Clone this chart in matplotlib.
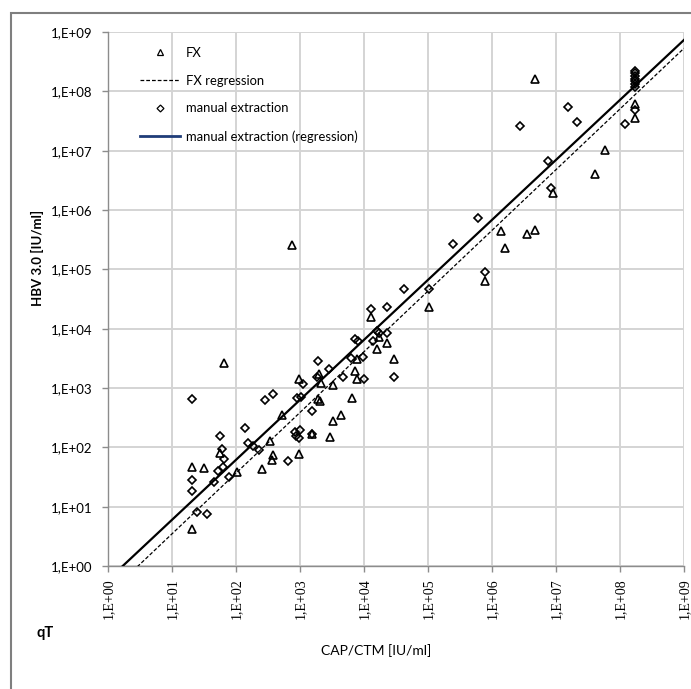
import numpy as np
import matplotlib
matplotlib.use("Agg")
import matplotlib.pyplot as plt
from matplotlib.lines import Line2D
from matplotlib.patches import Rectangle
from matplotlib.ticker import FixedLocator, NullLocator

# ---------------- data ----------------
fx_cap = [20.5, 20.5, 31.3, 56.2, 63.8, 104, 255, 340, 374, 365, 524, 759, 975, 975,
          1894, 2089, 1982, 2104, 1556, 2972, 3221, 4325, 3311, 6427, 7228, 7691, 7780,
          29720, 12850, 15960, 16980, 22650, 104700, 785000, 1368000, 1596000, 3565000,
          4699000, 8872000, 4699000, 40640000, 58880000, 173400000, 173400000]
fx_hbv = [4.2, 46.7, 44, 79.4, 2612, 37.9, 43.2, 127, 73.5, 61.2, 355, 254000, 76.6, 1403,
          650, 608, 1722, 1213, 166, 151, 273, 351, 1114, 670, 1959, 1403, 3027,
          3083, 15560, 4457, 7161, 5675, 23170, 64400, 434500, 230700, 390800,
          467700, 1914000, 163300000, 4046000, 10280000, 61240000, 35160000]

man_cap = [20.5, 20.5, 20.5, 24.6, 35.2, 46.1, 52.7, 56.9, 60.4, 65.5, 62.7, 76.4,
           139, 154, 185, 225, 281, 383, 643, 836, 1000, 866, 975, 904, 1029, 1127,
           1524, 1556, 1824, 1892, 2818, 4667, 6310, 9572, 10070, 7289, 8054, 13580,
           12740, 22650, 15780, 17340, 23120, 29720, 42660, 103700, 243200, 598400,
           785000, 2738000, 7586000, 8260000, 15240000, 21530000, 121100000, 173400000,
           173400000, 173400000, 173400000, 173400000, 173400000, 173400000, 173400000]
man_hbv = [661, 27.8, 18.6, 7.98, 7.46, 26.1, 40.4, 157, 95.5, 62.8, 46.7, 32.0,
           209, 117, 105, 89.1, 628, 783, 58.2, 182, 194, 155, 145, 673, 692, 1169,
           413, 166, 1552, 2799, 2075, 1517, 3228, 3334, 1403, 6622, 6266, 6081,
           21480, 22910, 9141, 8356, 8356, 1552, 47210, 46130, 264200, 724400,
           91200, 26060000, 6776000, 2323000, 55080000, 30760000, 27860000, 48530000,
           222800000, 201400000, 181600000, 163300000, 147600000, 133000000, 120000000]

# regression in log10 space: log10(y) = slope * log10(x) + intercept
fx_reg_slope, fx_reg_intercept = 1.023, -0.481
man_reg_slope, man_reg_intercept = 1.011, -0.2325

tick_values = [1e0, 1e1, 1e2, 1e3, 1e4, 1e5, 1e6, 1e7, 1e8, 1e9]
tick_labels = ["1,E+00", "1,E+01", "1,E+02", "1,E+03", "1,E+04",
               "1,E+05", "1,E+06", "1,E+07", "1,E+08", "1,E+09"]

legend_labels = ["FX", "FX regression", "manual extraction",
                 "manual extraction (regression)"]

# ---------------- figure ----------------
W, H = 691, 689
fig = plt.figure(figsize=(W / 100, H / 100), dpi=100)
ax = fig.add_axes([108 / W, 1 - 566 / H, 576 / W, 534 / H])

grid_c = "#d4d4d4"
axis_c = "#8c8c8c"

ax.set_xscale("log")
ax.set_yscale("log")
ax.set_xlim(1, 1e9)
ax.set_ylim(1, 1e9)

xs = np.logspace(0, 9, 400)
ax.plot(xs, 10 ** (fx_reg_slope * np.log10(xs) + fx_reg_intercept),
        color="black", lw=0.9, ls=(0, (3, 1.6)), zorder=3)
ax.plot(xs, 10 ** (man_reg_slope * np.log10(xs) + man_reg_intercept),
        color="black", lw=1.6, zorder=3)

ax.plot(fx_cap, fx_hbv, ls="none", marker="^", ms=5.5, mfc="none", mec="black",
        mew=1.2, zorder=4)
ax.plot(man_cap, man_hbv, ls="none", marker="D", ms=4.0, mfc="none", mec="black",
        mew=1.2, zorder=4)

for axis in (ax.xaxis, ax.yaxis):
    axis.set_major_locator(FixedLocator(tick_values))
    axis.set_minor_locator(NullLocator())
ax.set_xticklabels(tick_labels, rotation=90, family="Liberation Serif", fontsize=10)
ax.set_yticklabels(tick_labels, family="Lato", fontsize=9.5)
ax.tick_params(axis="both", which="major", direction="out", length=4, width=1,
               color=axis_c, labelcolor="black")
ax.tick_params(axis="y", pad=7)
ax.tick_params(axis="x", pad=5)

ax.grid(True, which="major", color=grid_c, lw=1.4, zorder=0)
ax.set_axisbelow(True)
for s in ("top", "right"):
    ax.spines[s].set_visible(False)
for s in ("left", "bottom"):
    ax.spines[s].set_color(axis_c)
    ax.spines[s].set_linewidth(1.0)
    ax.spines[s].set_zorder(2.5)

# legend
handles = [
    Line2D([], [], ls="none", marker="^", ms=4.5, mfc="none", mec="black", mew=0.9),
    Line2D([], [], color="black", lw=0.9, ls=(0, (3, 1.6))),
    Line2D([], [], ls="none", marker="D", ms=3.5, mfc="none", mec="black", mew=0.9),
    Line2D([], [], color="#1f3c78", lw=2.0),
]
leg = ax.legend(handles, legend_labels, loc="upper left",
                bbox_to_anchor=((140 - 108) / 576, 1 - (47 - 32) / 534),
                frameon=False, borderpad=0, borderaxespad=0,
                handlelength=3.1, handletextpad=0.4, labelspacing=1.2,
                prop={"family": "Lato", "size": 9.4})

# axis titles
fig.text(37 / W, 1 - 258 / H, "HBV 3.0 [IU/ml]", rotation=90, ha="center",
         va="center", family="Lato", fontsize=9.5, fontweight="bold")
fig.text(376 / W, 1 - 651 / H, "CAP/CTM [IU/ml]", ha="center", va="center",
         family="Lato", fontsize=10)
fig.text(45 / W, 1 - 633 / H, "qT", ha="center", va="center",
         family="Lato", fontsize=10.5, fontweight="bold")

# outer frame (extends beyond the image to the right and bottom)
fig.add_artist(Rectangle((10.5 / W, -0.1), 1.2, 1.1 - 12.7 / H,
                         transform=fig.transFigure, fill=False,
                         edgecolor="#7f7f7f", lw=1.5))

fig.savefig("out.png", dpi=100)
